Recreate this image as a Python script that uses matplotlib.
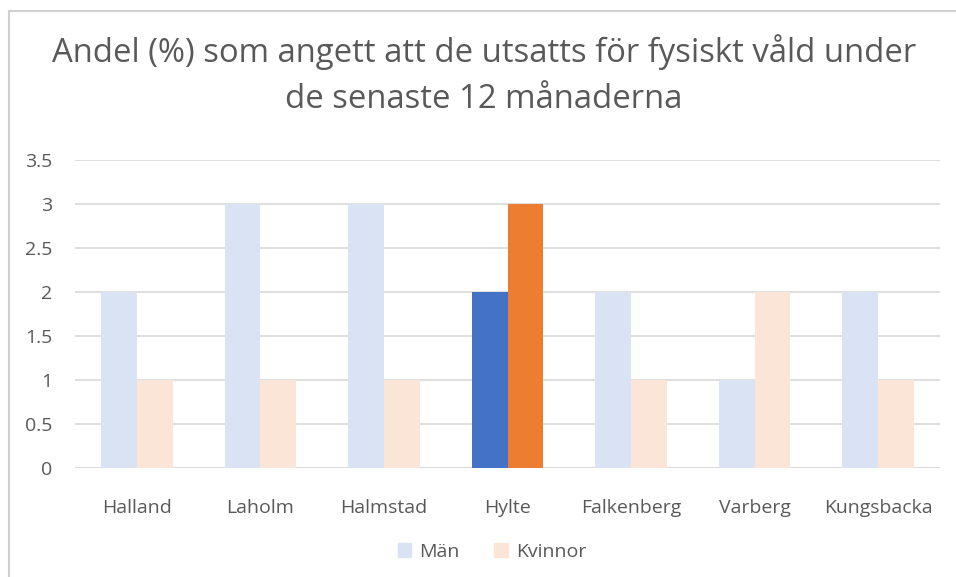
import matplotlib
matplotlib.use("Agg")
import matplotlib.pyplot as plt
from matplotlib.patches import Patch
from matplotlib.lines import Line2D

categories = ["Halland", "Laholm", "Halmstad", "Hylte", "Falkenberg", "Varberg", "Kungsbacka"]
man = [2, 3, 3, 2, 2, 1, 2]
kvinnor = [1, 1, 1, 3, 1, 2, 1]
highlight = "Hylte"
yticks = [0, 0.5, 1, 1.5, 2, 2.5, 3, 3.5]
ytick_labels = ["0", "0.5", "1", "1.5", "2", "2.5", "3", "3.5"]

W, H = 956, 577
fig = plt.figure(figsize=(W / 100, H / 100), dpi=100)
plt.rcParams['font.family'] = ['Open Sans', 'DejaVu Sans']
txt = "#595959"

# border lines (left and top)
fig.add_artist(Line2D([8.5 / W, 8.5 / W], [0, 1 - 11 / H], color="#D0D0D0", lw=1.5, transform=fig.transFigure))
fig.add_artist(Line2D([8.5 / W, 1], [1 - 11 / H, 1 - 11 / H], color="#D0D0D0", lw=1.5, transform=fig.transFigure))

x0, x1 = 75, 940
y0, y1 = 468, 160
ax = fig.add_axes([x0 / W, 1 - y0 / H, (x1 - x0) / W, (y0 - y1) / H])
ax.set_xlim(-0.5, len(categories) - 0.5)
ax.set_ylim(0, 3.5)

bw = 0.29
for i, c in enumerate(categories):
    hl = c == highlight
    ax.bar(i - bw / 2, man[i], width=bw, color="#4472C4" if hl else "#DAE3F3", zorder=2)
    ax.bar(i + bw / 2, kvinnor[i], width=bw, color="#ED7D31" if hl else "#FBE5D6", zorder=2)

ax.set_yticks(yticks)
ax.set_yticklabels(ytick_labels)
ax.set_xticks(range(len(categories)))
ax.set_xticklabels(categories)
ax.grid(axis="y", color="#D9D9D9", lw=1.2, zorder=0)
for s in ax.spines.values():
    s.set_visible(False)
ax.tick_params(axis="both", length=0, colors=txt, labelsize=14)
ax.tick_params(axis="y", pad=16.5)
ax.tick_params(axis="x", pad=22)
ax.axhline(0, color="#D9D9D9", lw=1.2, zorder=1)

fig.text(484 / W, 1 - 52 / H, "Andel (%) som angett att de utsatts för fysiskt våld under",
         ha="center", va="center", fontsize=23.7, color=txt)
fig.text(484 / W, 1 - 99 / H, "de senaste 12 månaderna",
         ha="center", va="center", fontsize=23.7, color=txt)

handles = [Patch(color="#DAE3F3", label="Män"), Patch(color="#FBE5D6", label="Kvinnor")]
fig.legend(handles=handles, loc="center", bbox_to_anchor=(492 / W, 1 - 552 / H), ncol=2,
           frameon=False, fontsize=14, labelcolor=txt, handlelength=0.7, handleheight=0.7,
           columnspacing=1.8, handletextpad=0.4)

fig.savefig("out.png", dpi=100)
